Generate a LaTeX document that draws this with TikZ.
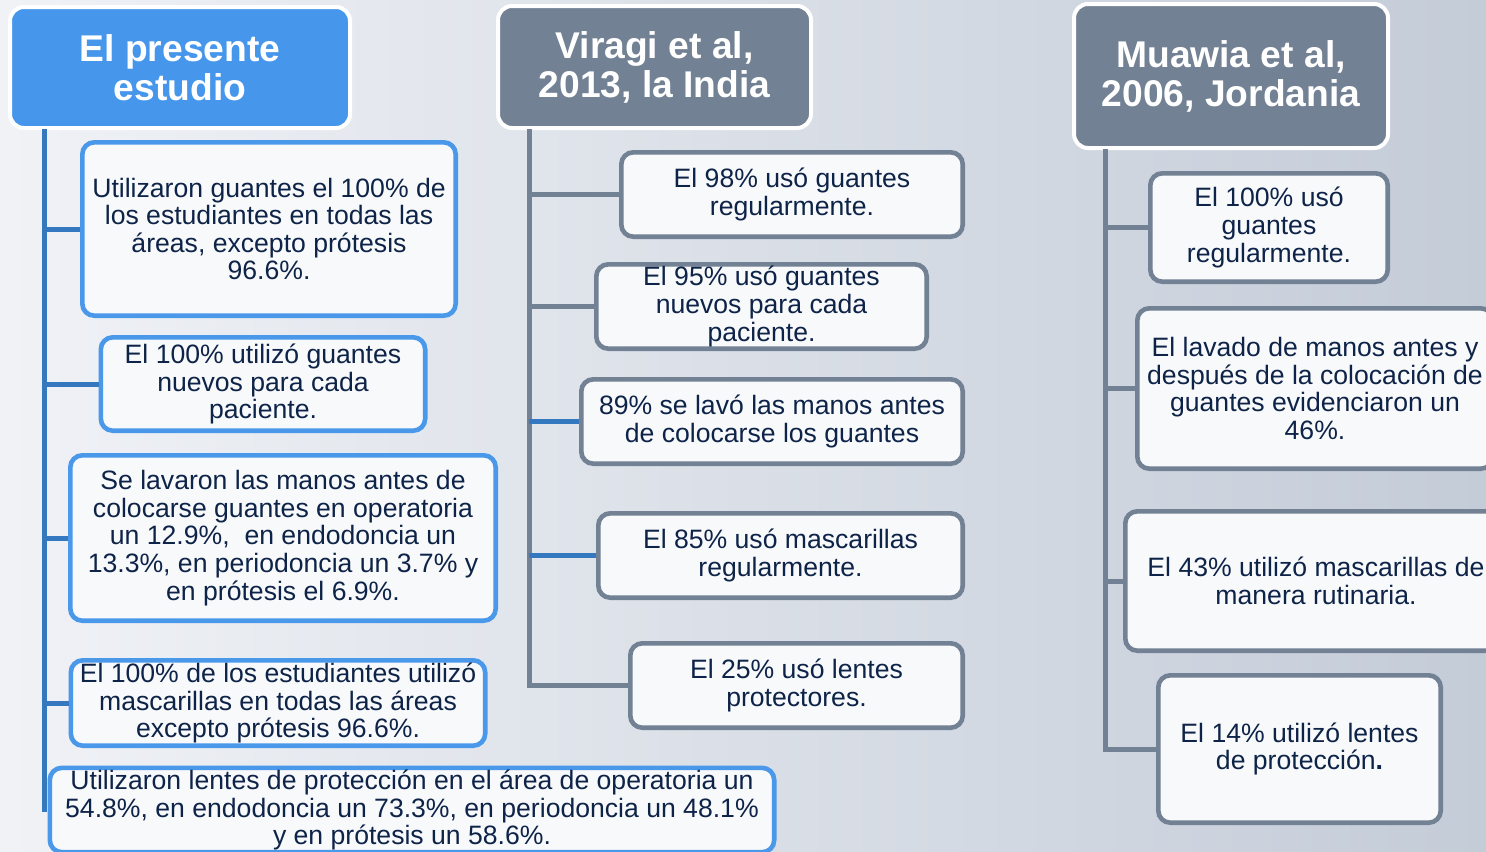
\documentclass[tikz,border=0pt]{standalone}
\usepackage{fontspec}
\setmainfont{Liberation Sans}
\definecolor{bgleft}{RGB}{240,242,246}
\definecolor{bgright}{RGB}{196,204,216}
\definecolor{hblue}{RGB}{70,150,236}
\definecolor{eblue}{RGB}{74,152,234}
\definecolor{lblue}{RGB}{52,120,192}
\definecolor{slate}{RGB}{114,129,148}
\definecolor{boxfill}{RGB}{248,249,251}
\definecolor{ink}{RGB}{14,35,72}

\begin{document}
\begin{tikzpicture}[x=0.5pt,y=-0.5pt,
  head/.style={draw=white,line width=2pt,rounded corners=7pt,text=white,align=center,
    font=\fontsize{18.6}{19.5}\selectfont\bfseries,inner sep=1pt},
  card/.style={fill=boxfill,line width=2.3pt,rounded corners=6pt,text=ink,align=center,
    font=\fontsize{13.3}{13.8}\selectfont,inner sep=1pt},
  bluecard/.style={card,draw=eblue},
  graycard/.style={card,draw=slate},
  bluelink/.style={draw=lblue,line width=2.5pt},
  graylink/.style={draw=slate,line width=2.5pt}]
\useasboundingbox (0,0) rectangle (1486,851);
\clip (0,0) rectangle (1486,851);
\shade[left color=bgleft,right color=bgright] (0,0) rectangle (1486,851);

\begin{scope}
	\node[head,fill=hblue,minimum width=170pt,minimum height=60.5pt] (hA) at (180,67.5)
		{El presente\\estudio};
	\node[bluecard,minimum width=186.7pt,minimum height=86.7pt] (b1) at (269,229)
		{Utilizaron guantes el 100\% de\\los estudiantes en todas las\\áreas, excepto prótesis\\96.6\%.};
	\node[bluecard,minimum width=162.2pt,minimum height=46.7pt] (b2) at (263,384)
		{El 100\% utilizó guantes\\nuevos para cada\\paciente.};
	\node[bluecard,minimum width=212.7pt,minimum height=82.7pt] (b3) at (283,538)
		{Se lavaron las manos antes de\\colocarse guantes en operatoria\\un 12.9\%,~ en endodoncia un\\13.3\%, en periodoncia un 3.7\% y\\en prótesis el 6.9\%.};
	\node[bluecard,minimum width=207.2pt,minimum height=42.7pt] (b4) at (278,703)
		{El 100\% de los estudiantes utilizó\\mascarillas en todas las áreas\\excepto prótesis 96.6\%.};
	\coordinate (tA) at (44,129);
	\coordinate (eA) at (44,812);
	\draw[bluelink] (tA) -- (eA);
	\foreach \b in {b1,b2,b3,b4}{
		\draw[bluelink] (tA |- \b.west) -- (\b.west);
	}
	\node[bluecard,minimum width=362.2pt,minimum height=41.7pt] (b5) at (412,810)
		{Utilizaron lentes de protección en el área de operatoria un\\54.8\%, en endodoncia un 73.3\%, en periodoncia un 48.1\%\\y en prótesis un 58.6\%.};
\end{scope}

\begin{scope}
	\node[head,fill=slate,minimum width=156.5pt,minimum height=61pt] (hB) at (654.5,67)
		{Viragi et al,\\2013, la India};
	\node[graycard,minimum width=170.7pt,minimum height=42.2pt] (g1) at (792,194.5)
		{El 98\% usó guantes\\regularmente.};
	\node[graycard,minimum width=165.2pt,minimum height=42.2pt] (g2) at (761.5,306.5)
		{El 95\% usó guantes\\nuevos para cada\\paciente.};
	\node[graycard,minimum width=190.7pt,minimum height=42.2pt] (g3) at (772,421.5)
		{89\% se lavó las manos antes\\de colocarse los guantes};
	\node[graycard,minimum width=182.2pt,minimum height=42.2pt] (g4) at (780.5,555.5)
		{El 85\% usó mascarillas\\regularmente.};
	\node[graycard,minimum width=166.2pt,minimum height=42.2pt] (g5) at (796.5,685.5)
		{El 25\% usó lentes\\protectores.};
	\coordinate (tB) at (529,129);
	\draw[graylink] (tB) |- (g5.west);
	\foreach \b in {g1,g2}{
		\draw[graylink] (tB |- \b.west) -- (\b.west);
	}
	\foreach \b in {g3,g4}{
		\draw[bluelink] (tB |- \b.west) -- (\b.west);
	}
\end{scope}

\begin{scope}
	\node[head,fill=slate,minimum width=157pt,minimum height=72pt] (hC) at (1231,76)
		{Muawia et al,\\2006, Jordania};
	\node[graycard,minimum width=118.7pt,minimum height=54.2pt] (m1) at (1269,227.5)
		{El 100\% usó\\guantes\\regularmente.};
	\node[graycard,minimum width=177.7pt,minimum height=80.2pt] (m2) at (1315,388.5)
		{El lavado de manos antes y\\después de la colocación de\\guantes evidenciaron un\\46\%.};
	\node[graycard,minimum width=190.7pt,minimum height=69.7pt] (m3) at (1316,581)
		{El 43\% utilizó mascarillas de\\manera rutinaria.};
	\node[graycard,minimum width=141.2pt,minimum height=73.7pt] (m4) at (1299.5,749)
		{El 14\% utilizó lentes\\de protección\textbf{.}};
	\coordinate (tC) at (1105,149);
	\draw[graylink] (tC) |- (m4.west);
	\foreach \b in {m1,m2,m3}{
		\draw[graylink] (tC |- \b.west) -- (\b.west);
	}
\end{scope}

\end{tikzpicture}
\end{document}
